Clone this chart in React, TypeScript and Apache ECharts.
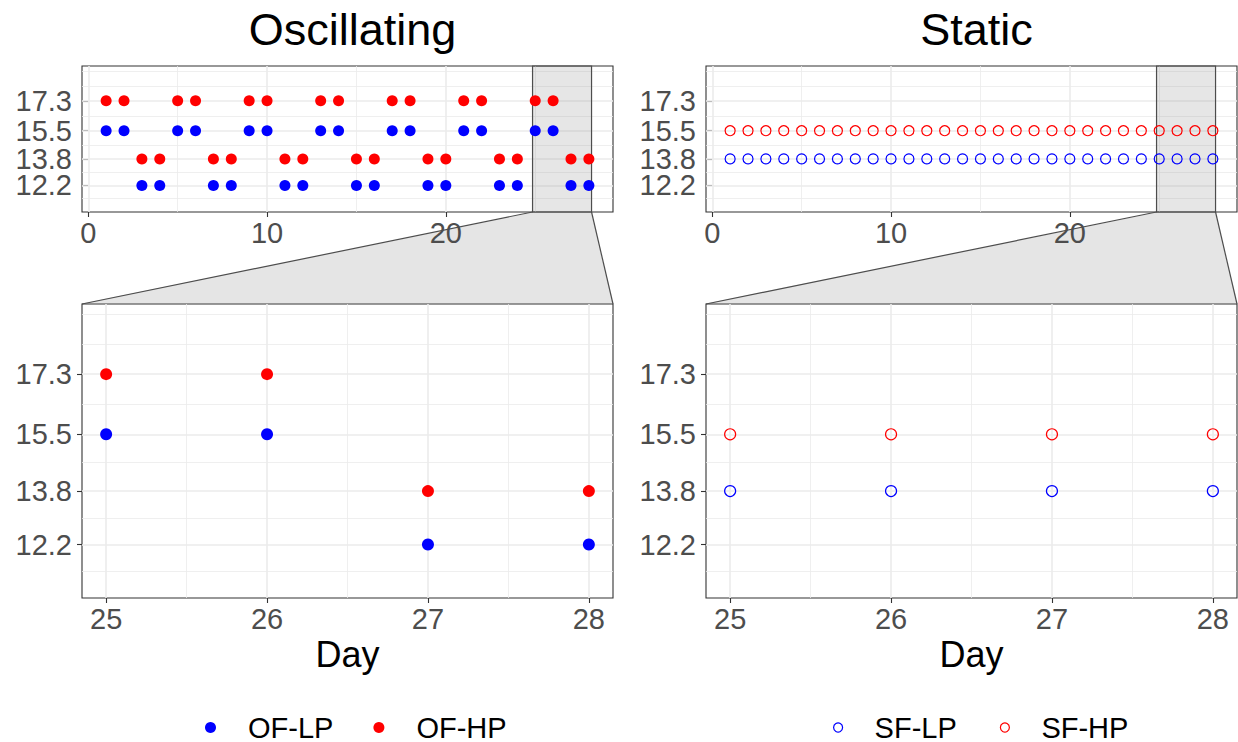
import React, { useEffect, useRef } from "react";
import * as echarts from "echarts";

// Daily photoperiod treatments (hours of light)
const days = [1, 2, 3, 4, 5, 6, 7, 8, 9, 10, 11, 12, 13, 14, 15, 16, 17, 18, 19, 20, 21, 22, 23, 24, 25, 26, 27, 28];
const ofLP = [15.5, 15.5, 12.2, 12.2, 15.5, 15.5, 12.2, 12.2, 15.5, 15.5, 12.2, 12.2, 15.5, 15.5, 12.2, 12.2, 15.5, 15.5, 12.2, 12.2, 15.5, 15.5, 12.2, 12.2, 15.5, 15.5, 12.2, 12.2];
const ofHP = [17.3, 17.3, 13.8, 13.8, 17.3, 17.3, 13.8, 13.8, 17.3, 17.3, 13.8, 13.8, 17.3, 17.3, 13.8, 13.8, 17.3, 17.3, 13.8, 13.8, 17.3, 17.3, 13.8, 13.8, 17.3, 17.3, 13.8, 13.8];
const sfLP = [13.8, 13.8, 13.8, 13.8, 13.8, 13.8, 13.8, 13.8, 13.8, 13.8, 13.8, 13.8, 13.8, 13.8, 13.8, 13.8, 13.8, 13.8, 13.8, 13.8, 13.8, 13.8, 13.8, 13.8, 13.8, 13.8, 13.8, 13.8];
const sfHP = [15.5, 15.5, 15.5, 15.5, 15.5, 15.5, 15.5, 15.5, 15.5, 15.5, 15.5, 15.5, 15.5, 15.5, 15.5, 15.5, 15.5, 15.5, 15.5, 15.5, 15.5, 15.5, 15.5, 15.5, 15.5, 15.5, 15.5, 15.5];

// Axis breaks and limits
const yTicks = [12.2, 13.8, 15.5, 17.3];
const yMinor = [11.4, 13.0, 14.65, 16.4, 18.2, 19.1];
const yRange = [10.6, 19.4];
const xTicksFull = [0, 10, 20];
const xMinorFull = [5, 15, 25];
const xRangeFull = [-0.35, 29.35];
const zoomDays = [25, 28];
const xTicksZoom = [25, 26, 27, 28];
const xMinorZoom = [25.5, 26.5, 27.5];
const xRangeZoom = [24.85, 28.15];

const panelTitles = ["Oscillating", "Static"];
const axisTitle = "Day";

const BLUE = "#0000FF";
const RED = "#FF0000";
const FONT = "'Liberation Sans', Arial, Helvetica, sans-serif";
const GRID_COLOR = "#EBEBEB";
const INK = "#333333";
const ZOOM_EDGE = "#4D4D4D";

const pairs = (vals: number[]) => days.map((d, i) => [d, vals[i]]);
const inZoom = (vals: number[]) =>
  pairs(vals).filter((p) => p[0] >= zoomDays[0] && p[0] <= zoomDays[1]);

export default function App() {
  const ref = useRef<HTMLDivElement>(null);

  useEffect(() => {
    if (!ref.current) return;
    const chart = echarts.init(ref.current, undefined, { renderer: "svg" });

    const grids = [
      { left: 82, top: 66, width: 531, height: 146 },
      { left: 706, top: 66, width: 531, height: 146 },
      { left: 82, top: 304, width: 531, height: 294 },
      { left: 706, top: 304, width: 531, height: 294 },
    ].map((g) => ({
      ...g,
      show: true,
      borderColor: INK,
      borderWidth: 1.1,
      backgroundColor: "transparent",
    }));

    const labelStyle = {
      fontSize: 29,
      lineHeight: 26,
      color: "#4D4D4D",
      fontFamily: FONT,
      hideOverlap: false,
    };

    const xAxis = (idx: number, range: number[], ticks: number[], withName: boolean) => ({
      type: "value",
      gridIndex: idx,
      min: range[0],
      max: range[1],
      axisLine: { show: false },
      axisTick: { show: true, length: 5, customValues: ticks, lineStyle: { color: INK, width: 1.1 } },
      axisLabel: { ...labelStyle, showMinLabel: true, showMaxLabel: true, customValues: ticks, margin: 8 },
      splitLine: { show: false },
      name: withName ? axisTitle : "",
      nameLocation: "middle",
      nameGap: 38,
      nameTextStyle: { fontSize: 36, color: "#000", fontFamily: FONT },
    });

    // The lower limit is listed first as a hidden placeholder label, so the
    // tightly spaced 12.2 / 13.8 labels are never dropped as overlapping.
    const yAxis = (idx: number) => ({
      type: "value",
      gridIndex: idx,
      min: yRange[0],
      max: yRange[1],
      axisLine: { show: false },
      axisTick: { show: true, length: 5, customValues: yTicks, lineStyle: { color: INK, width: 1.1 } },
      axisLabel: {
        ...labelStyle,
        customValues: [yRange[0], ...yTicks],
        showMinLabel: false,
        showMaxLabel: true,
        formatter: (v: number) => (yTicks.includes(v) ? String(v) : ""),
        margin: 10,
      },
      splitLine: { show: false },
    });

    const minorStyle = { color: GRID_COLOR, width: 0.8, type: "solid" };
    const majorStyle = { color: GRID_COLOR, width: 1.6, type: "solid" };

    const gridLines = (idx: number, xMajor: number[], xMin: number[], xRange: number[]) => ({
      type: "scatter",
      xAxisIndex: idx,
      yAxisIndex: idx,
      data: [],
      silent: true,
      z: 1,
      markLine: {
        silent: true,
        symbol: "none",
        animation: false,
        z: 1,
        label: { show: false },
        emphasis: { disabled: true },
        data: [
          ...yMinor.map((v) => ({ yAxis: v, lineStyle: minorStyle })),
          ...xMin.filter((v) => v > xRange[0] && v < xRange[1]).map((v) => ({ xAxis: v, lineStyle: minorStyle })),
          ...yTicks.map((v) => ({ yAxis: v, lineStyle: majorStyle })),
          ...xMajor.map((v) => ({ xAxis: v, lineStyle: majorStyle })),
        ],
      },
    });

    const zoomBox = (idx: number) => ({
      type: "scatter",
      xAxisIndex: idx,
      yAxisIndex: idx,
      data: [],
      silent: true,
      z: 2,
      markArea: {
        silent: true,
        animation: false,
        z: 2,
        itemStyle: {
          color: "rgba(128,128,128,0.2)",
          borderColor: ZOOM_EDGE,
          borderWidth: 1.2,
          borderType: "solid",
        },
        emphasis: { disabled: true },
        data: [[{ xAxis: xRangeZoom[0] }, { xAxis: xRangeZoom[1] }]],
      },
    });

    const solid = (name: string, color: string, idx: number, data: number[][], size: number) => ({
      type: "scatter",
      name,
      xAxisIndex: idx,
      yAxisIndex: idx,
      data,
      symbol: "circle",
      symbolSize: size,
      itemStyle: { color, opacity: 1 },
      emphasis: { disabled: true },
      z: 5,
    });

    const hollow = (name: string, color: string, idx: number, data: number[][], size: number) => ({
      type: "scatter",
      name,
      xAxisIndex: idx,
      yAxisIndex: idx,
      data,
      symbol: "circle",
      symbolSize: size,
      itemStyle: { color: "rgba(0,0,0,0)", borderColor: color, borderWidth: 1.2, opacity: 1 },
      emphasis: { disabled: true },
      z: 5,
    });

    const legendBase = {
      orient: "horizontal",
      top: 713,
      selectedMode: false,
      padding: 0,
      textStyle: {
        fontSize: 29,
        lineHeight: 28,
        color: "#000",
        fontFamily: FONT,
        padding: [0, 0, 0, 27],
      },
    };

    chart.setOption({
      animation: false,
      backgroundColor: "#fff",
      title: [
        { text: panelTitles[0], left: 347.5, top: 2, textAlign: "center", textStyle: { fontSize: 45, fontWeight: "normal", color: "#000", fontFamily: FONT } },
        { text: panelTitles[1], left: 971.5, top: 2, textAlign: "center", textStyle: { fontSize: 45, fontWeight: "normal", color: "#000", fontFamily: FONT } },
      ],
      legend: [
        { ...legendBase, left: 205, itemWidth: 11, itemHeight: 11, itemGap: 40, data: ["OF-LP", "OF-HP"] },
        {
          ...legendBase,
          left: 833,
          itemWidth: 9,
          itemHeight: 9,
          itemGap: 43,
          data: ["SF-LP", "SF-HP"],
          itemStyle: { borderWidth: 1.2 },
        },
      ],
      grid: grids,
      xAxis: [
        xAxis(0, xRangeFull, xTicksFull, false),
        xAxis(1, xRangeFull, xTicksFull, false),
        xAxis(2, xRangeZoom, xTicksZoom, true),
        xAxis(3, xRangeZoom, xTicksZoom, true),
      ],
      yAxis: [yAxis(0), yAxis(1), yAxis(2), yAxis(3)],
      series: [
        gridLines(0, xTicksFull, xMinorFull, xRangeFull),
        gridLines(1, xTicksFull, xMinorFull, xRangeFull),
        gridLines(2, xTicksZoom, xMinorZoom, xRangeZoom),
        gridLines(3, xTicksZoom, xMinorZoom, xRangeZoom),
        zoomBox(0),
        zoomBox(1),
        solid("OF-LP", BLUE, 0, pairs(ofLP), 11),
        solid("OF-HP", RED, 0, pairs(ofHP), 11),
        solid("OF-LP", BLUE, 2, inZoom(ofLP), 12),
        solid("OF-HP", RED, 2, inZoom(ofHP), 12),
        hollow("SF-LP", BLUE, 1, pairs(sfLP), 10),
        hollow("SF-HP", RED, 1, pairs(sfHP), 10),
        hollow("SF-LP", BLUE, 3, inZoom(sfLP), 11),
        hollow("SF-HP", RED, 3, inZoom(sfHP), 11),
      ],
    });

    // Trapezoid linking each overview panel's zoom window to its detail panel
    const connector = (top: number, bottom: number) => {
      const a = chart.convertToPixel({ xAxisIndex: top, yAxisIndex: top }, [xRangeZoom[0], yRange[0]]) as number[];
      const b = chart.convertToPixel({ xAxisIndex: top, yAxisIndex: top }, [xRangeZoom[1], yRange[0]]) as number[];
      const c = chart.convertToPixel({ xAxisIndex: bottom, yAxisIndex: bottom }, [xRangeZoom[1], yRange[1]]) as number[];
      const d = chart.convertToPixel({ xAxisIndex: bottom, yAxisIndex: bottom }, [xRangeZoom[0], yRange[1]]) as number[];
      const edge = { stroke: ZOOM_EDGE, lineWidth: 1.2 };
      return [
        {
          type: "polygon",
          silent: true,
          z: -1,
          shape: { points: [[a[0], a[1] + 0.6], [b[0], b[1] + 0.6], [c[0], c[1] - 0.6], [d[0], d[1] - 0.6]] },
          style: { fill: "#E5E5E5" },
        },
        { type: "line", silent: true, shape: { x1: a[0], y1: a[1], x2: d[0], y2: d[1] }, style: edge },
        { type: "line", silent: true, shape: { x1: b[0], y1: b[1], x2: c[0], y2: c[1] }, style: edge },
      ];
    };

    chart.setOption({ graphic: [...connector(0, 2), ...connector(1, 3)] });

    return () => chart.dispose();
  }, []);

  return (
    <div
      ref={ref}
      style={{ position: "absolute", left: 0, top: 0, width: 1238, height: 742 }}
    />
  );
}
